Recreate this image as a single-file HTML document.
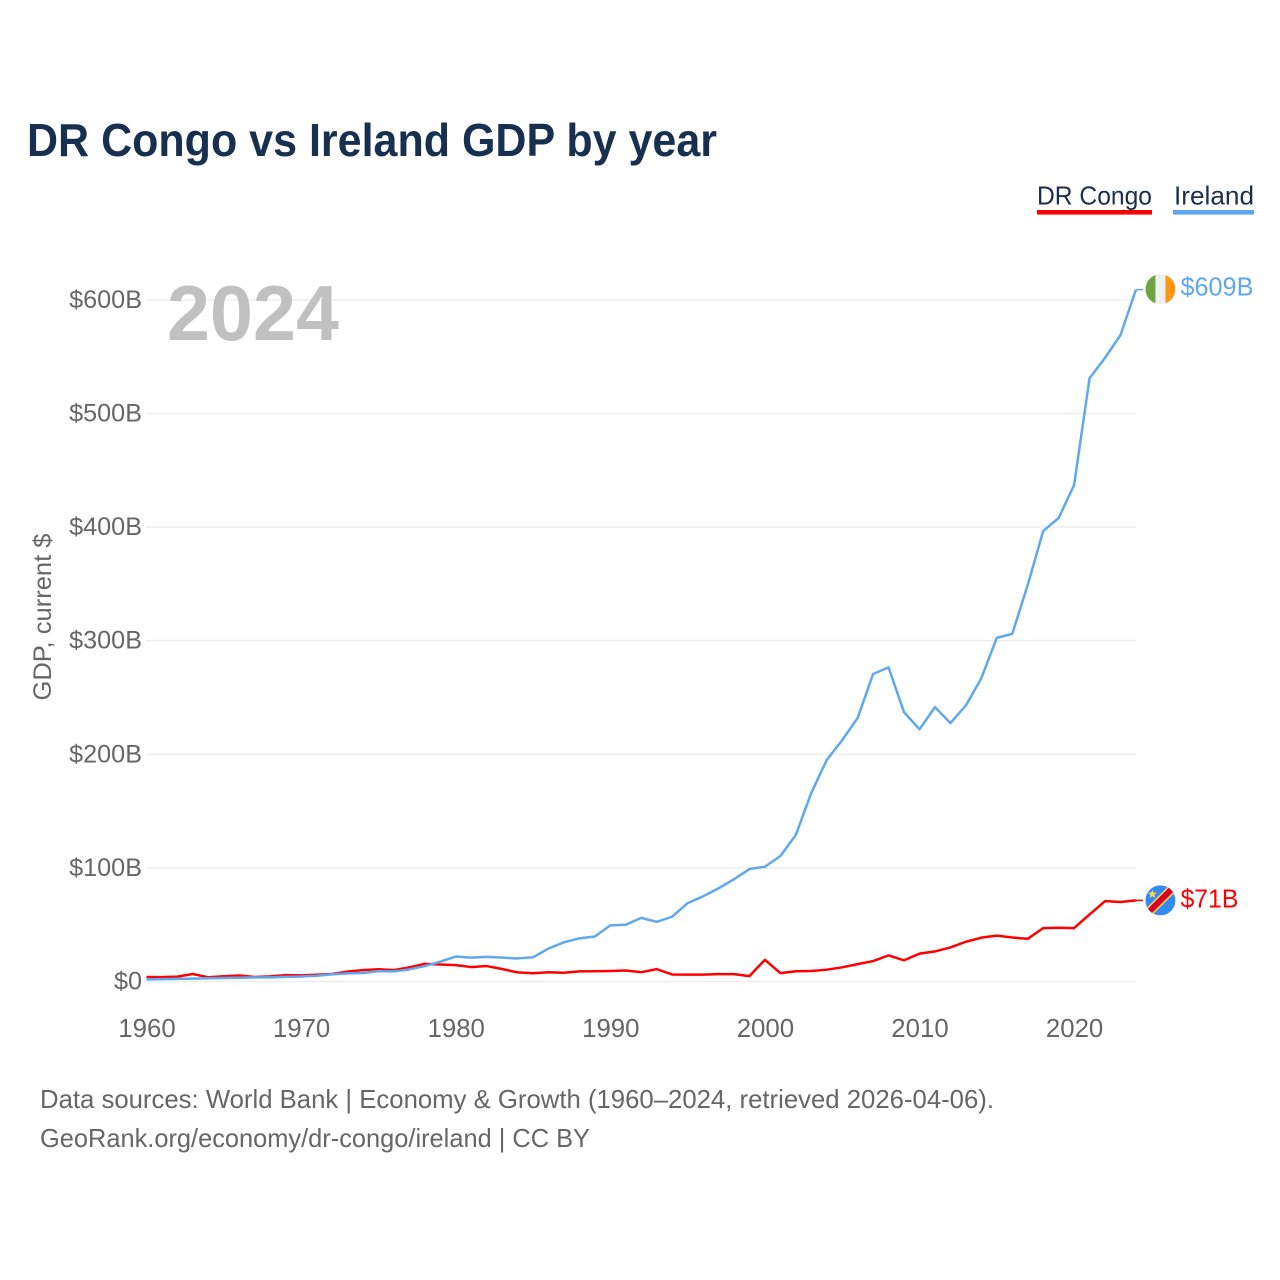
<!DOCTYPE html>
<html lang="en">
<head>
<meta charset="utf-8">
<title>DR Congo vs Ireland GDP by year</title>
<style>
html,body{margin:0;padding:0;background:#fff;}
svg{display:block;font-family:"Liberation Sans",sans-serif;}
</style>
</head>
<body>
<svg id="chart" xmlns="http://www.w3.org/2000/svg" width="1280" height="1280" viewBox="0 0 1280 1280">
  <defs>
    <clipPath id="flag-clip"><circle cx="0" cy="0" r="15"></circle></clipPath>
  </defs>
  <rect x="0" y="0" width="1280" height="1280" fill="#ffffff"></rect>
  <text x="27" y="156" font-size="46" font-weight="700" fill="#18304f" textLength="690" lengthAdjust="spacingAndGlyphs">DR Congo vs Ireland GDP by year</text>

  <g>
    <g>
      <text x="1037" y="204.5" font-size="26" fill="#18304f" textLength="115" lengthAdjust="spacingAndGlyphs">DR Congo</text>
      <rect x="1037" y="210" width="115" height="4.6" fill="#ff0000"></rect>
    </g>
    <g>
      <text x="1174" y="204.5" font-size="26" fill="#18304f" textLength="80" lengthAdjust="spacingAndGlyphs">Ireland</text>
      <rect x="1173" y="210" width="81" height="4.6" fill="#5fa8ee"></rect>
    </g>
  </g>

  <g id="grid"></g>
  <text id="year-watermark" x="167" y="340" font-size="78" font-weight="700" fill="#c0c0c0" textLength="172" lengthAdjust="spacingAndGlyphs">2024</text>
  <g id="y-ticks"></g>
  <g id="x-ticks"></g>
  <text transform="translate(51,617) rotate(-90)" text-anchor="middle" font-size="25" fill="#666666" textLength="167" lengthAdjust="spacingAndGlyphs">GDP, current $</text>

  <g id="series"></g>

  <g id="end-ireland">
    <g transform="translate(24.5,-0.5)" clip-path="url(#flag-clip)">
      <rect x="-15" y="-15" width="30" height="30" fill="#f0f0f0"></rect>
      <rect x="-15" y="-15" width="10" height="30" fill="#6da544"></rect>
      <rect x="5" y="-15" width="10" height="30" fill="#ff9811"></rect>
    </g>
    <text id="value-ireland" x="44.5" y="6" font-size="25.5" fill="#5fa8ee" textLength="73" lengthAdjust="spacingAndGlyphs"></text>
  </g>
  <g id="end-drc">
    <g transform="translate(24.5,0)" clip-path="url(#flag-clip)">
      <rect x="-15" y="-15" width="30" height="30" fill="#338af3"></rect>
      <line x1="-17" y1="17" x2="17" y2="-17" stroke="#ffda44" stroke-width="9"></line>
      <line x1="-17" y1="17" x2="17" y2="-17" stroke="#d80027" stroke-width="6"></line>
      <polygon points="-8,-11 -6.8,-7.8 -3.5,-7.7 -6.1,-5.6 -5.2,-2.4 -8,-4.3 -10.8,-2.4 -9.9,-5.6 -12.5,-7.7 -9.2,-7.8" fill="#ffda44"></polygon>
    </g>
    <text id="value-drc" x="44.5" y="7" font-size="25.5" fill="#ff0000" textLength="58" lengthAdjust="spacingAndGlyphs"></text>
  </g>

  <g>
    <text x="40" y="1108" font-size="26" fill="#666666" textLength="954" lengthAdjust="spacingAndGlyphs">Data sources: World Bank | Economy &amp; Growth (1960–2024, retrieved 2026-04-06).</text>
    <text x="40" y="1147" font-size="26" fill="#666666" textLength="550" lengthAdjust="spacingAndGlyphs">GeoRank.org/economy/dr-congo/ireland | CC BY</text>
  </g>
</svg>

<script>
const years = [1960,1961,1962,1963,1964,1965,1966,1967,1968,1969,1970,1971,1972,1973,1974,1975,1976,1977,1978,1979,1980,1981,1982,1983,1984,1985,1986,1987,1988,1989,1990,1991,1992,1993,1994,1995,1996,1997,1998,1999,2000,2001,2002,2003,2004,2005,2006,2007,2008,2009,2010,2011,2012,2013,2014,2015,2016,2017,2018,2019,2020,2021,2022,2023,2024];
const irelandGdp = [1.9,2.1,2.3,2.5,2.9,3.1,3.3,3.6,3.6,4.1,4.4,5.1,6.3,7.2,7.5,9.1,8.9,10.6,13.6,17.4,22,21,21.7,21,20.3,21.3,29,34.5,38,39.6,49.4,50,56,52.5,57,69,75,82,90,99,101,110.5,129,166,195,212.5,232,270.7,276.5,237,222,241.5,227.5,243,267,302.5,306,349,396.5,408,437,531,549,569,609];
const drCongoGdp = [4,3.8,4.3,6.6,3.7,4.6,5.3,4,4.5,5.6,5.4,5.9,6.6,8.7,10,10.8,10,12.5,15.5,15,14.4,12.7,13.6,11,8,7.3,8.1,7.7,8.9,9,9.3,9.7,8.2,10.9,6.2,6,6.1,6.5,6.5,4.7,19.1,7.4,9,9.2,10.4,12.5,15.3,18,23,18.7,24.5,26.5,30,35,38.6,40.4,38.7,37.6,47,47.3,47,59,70.7,70,71.4];
const yTickValues = [0,100,200,300,400,500,600];
const yTickLabels = ["$0","$100B","$200B","$300B","$400B","$500B","$600B"];
const xTickValues = [1960,1970,1980,1990,2000,2010,2020];

const SVG_NS = "http://www.w3.org/2000/svg";
const plot = { x0: 146.5, pxPerYear: 15.46, y0: 981.5, pxPerB: 1.136, right: 1136 };
function xScale(year) { return plot.x0 + (year - years[0]) * plot.pxPerYear; }
function yScale(value) { return plot.y0 - value * plot.pxPerB; }

const gridGroup = document.getElementById('grid');
const yTickGroup = document.getElementById('y-ticks');
yTickValues.forEach(function (value, i) {
  const rule = document.createElementNS(SVG_NS, 'line');
  
  
  rule.setAttribute('x1', xScale(years[0]));
  rule.setAttribute('x2', plot.right);
  rule.setAttribute('y1', yScale(value));
  rule.setAttribute('y2', yScale(value));
  rule.setAttribute('stroke', '#eeeeee');
  rule.setAttribute('stroke-width', '1.6');
  gridGroup.appendChild(rule);

  const label = document.createElementNS(SVG_NS, 'text');
  
  
  label.setAttribute('x', 142);
  label.setAttribute('y', yScale(value) + 8);
  label.setAttribute('text-anchor', 'end');
  label.setAttribute('font-size', '25.2');
  label.setAttribute('fill', '#666666');
  label.textContent = yTickLabels[i];
  yTickGroup.appendChild(label);
});

const xTickGroup = document.getElementById('x-ticks');
xTickValues.forEach(function (year) {
  const label = document.createElementNS(SVG_NS, 'text');
  
  
  label.setAttribute('x', xScale(year) + 0.5);
  label.setAttribute('y', 1037);
  label.setAttribute('text-anchor', 'middle');
  label.setAttribute('font-size', '25.8');
  label.setAttribute('fill', '#666666');
  label.textContent = String(year);
  xTickGroup.appendChild(label);
});

function linePath(values) {
  return values.map(function (v, i) {
    return (i ? 'L' : 'M') + xScale(years[i]).toFixed(2) + ' ' + yScale(v).toFixed(2);
  }).join(' ');
}

const seriesGroup = document.getElementById('series');

const irelandLine = document.createElementNS(SVG_NS, 'path');


irelandLine.setAttribute('d', linePath(irelandGdp));
irelandLine.setAttribute('fill', 'none');
irelandLine.setAttribute('stroke', '#5fa8ee');
irelandLine.setAttribute('stroke-width', '2.5');
irelandLine.setAttribute('stroke-linejoin', 'round');

const drCongoLine = document.createElementNS(SVG_NS, 'path');


drCongoLine.setAttribute('d', linePath(drCongoGdp));
drCongoLine.setAttribute('fill', 'none');
drCongoLine.setAttribute('stroke', '#ff0000');
drCongoLine.setAttribute('stroke-width', '2.5');
drCongoLine.setAttribute('stroke-linejoin', 'round');

seriesGroup.appendChild(drCongoLine);
seriesGroup.appendChild(irelandLine);

const lastYear = years[years.length - 1];
function placeEnd(groupId, valueId, values, color, connectorName) {
  const last = values[values.length - 1];
  const px = xScale(lastYear);
  const py = yScale(last);
  document.getElementById(groupId).setAttribute('transform', 'translate(' + px + ',' + py + ')');
  document.getElementById(valueId).textContent = '$' + Math.round(last) + 'B';
  const connector = document.createElementNS(SVG_NS, 'line');
  
  
  connector.setAttribute('x1', px);
  connector.setAttribute('x2', px + 7);
  connector.setAttribute('y1', py);
  connector.setAttribute('y2', py);
  connector.setAttribute('stroke', color);
  connector.setAttribute('stroke-width', '1.5');
  seriesGroup.appendChild(connector);
}
placeEnd('end-ireland', 'value-ireland', irelandGdp, '#5fa8ee', 'ireland-end-connector');
placeEnd('end-drc', 'value-drc', drCongoGdp, '#ff0000', 'dr-congo-end-connector');
</script>
</body>
</html>
